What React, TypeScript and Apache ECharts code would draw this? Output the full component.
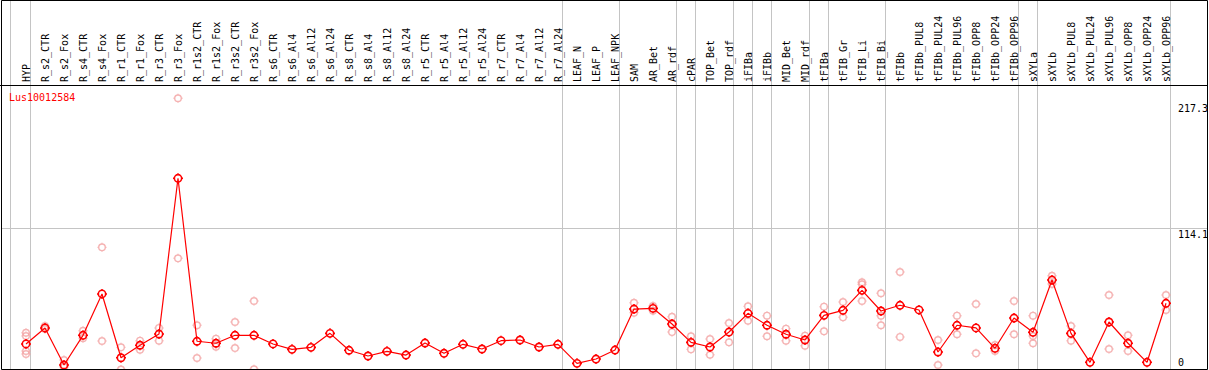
import React, { useEffect, useRef } from "react";
import * as echarts from "echarts";

const geneName = "Lus10012584";

const categories = [
  "HYP", "R_s2_CTR", "R_s2_Fox", "R_s4_CTR", "R_s4_Fox", "R_r1_CTR", "R_r1_Fox", "R_r3_CTR", "R_r3_Fox",
  "R_r1s2_CTR", "R_r1s2_Fox", "R_r3s2_CTR", "R_r3s2_Fox", "R_s6_CTR", "R_s6_Al4", "R_s6_Al12", "R_s6_Al24",
  "R_s8_CTR", "R_s8_Al4", "R_s8_Al12", "R_s8_Al24", "R_r5_CTR", "R_r5_Al4", "R_r5_Al12", "R_r5_Al24",
  "R_r7_CTR", "R_r7_Al4", "R_r7_Al12", "R_r7_Al24", "LEAF_N", "LEAF_P", "LEAF_NPK", "SAM", "AR_Bet", "AR_rdf",
  "cPAR", "TOP_Bet", "TOP_rdf", "iFIBa", "iFIBb", "MID_Bet", "MID_rdf", "tFIBa", "tFIB_Gr", "tFIB_Li", "tFIB_Bi",
  "tFIBb", "tFIBb_PUL8", "tFIBb_PUL24", "tFIBb_PUL96", "tFIBb_OPP8", "tFIBb_OPP24", "tFIBb_OPP96", "sXYLa",
  "sXYLb", "sXYLb_PUL8", "sXYLb_PUL24", "sXYLb_PUL96", "sXYLb_OPP8", "sXYLb_OPP24", "sXYLb_OPP96",
];

const meanValues = [
  15.7, 29.4, -2.3, 23.1, 58.5, 3.9, 14.6, 24.2, 157.5,
  18.0, 16.3, 23.1, 23.1, 15.7, 11.1, 12.8, 24.8,
  10.3, 5.4, 9.4, 6.2, 16.5, 7.7, 15.4, 11.4,
  18.5, 19.1, 13.1, 15.4, -0.9, 2.8, 10.5, 45.6, 46.2, 32.8,
  17.1, 13.1, 25.9, 41.9, 31.7, 24.0, 19.1, 40.2, 44.5, 61.6, 43.9,
  48.8, 44.8, 8.8, 31.7, 29.4, 12.0, 37.9, 25.7,
  70.4, 24.8, 0, 34.5, 16.3, 0, 50.5,
];

const replicateValues: number[][] = [
  [25.3, 22.5, 9.7, 7.1], [31.1, 28.5], [2.0, -4.0], [27.0, 20.5], [98.4, 18.2], [12.8, -6.2], [18.5, 10.8], [29.4, 18.5], [226.0, 89.0],
  [31.7, 3.7], [20.2, 13.4], [34.5, 12.2], [52.5, -6.0], [], [], [], [],
  [], [], [], [], [], [], [], [],
  [], [], [], [], [], [], [], [51.0, 42.5], [48.2, 44.2], [39.0, 25.9],
  [22.3, 11.1], [19.9, 6.5], [33.6, 17.1], [47.9, 35.6], [39.9, 22.3], [28.8, 18.5], [22.8, 14.2], [47.6, 26.5], [51.6, 38.5], [68.5, 66.8, 52.5], [59.1, 39.9, 31.7],
  [77.3, 21.7], [], [19.1, -2.3], [39.9, 24.0], [49.9, 7.7], [14.8, 9.7], [52.5, 24.0], [39.9, 22.5, 16.3],
  [74.1, 67.0], [31.1, 18.5], [], [57.6, 11.4], [23.1, 9.7], [], [57.6, 44.8],
];

const yTickValues = [0, 114.1, 217.3];
const gridLineValue = 114.1;
const separatorAfter = [0, 28, 31, 34, 35, 37, 38, 39, 41, 42, 45, 52, 53, 60];

const markerPath =
  "path://M0,-3.5 C1.933,-3.5 3.5,-1.933 3.5,0 C3.5,1.933 1.933,3.5 0,3.5 C-1.933,3.5 -3.5,1.933 -3.5,0 C-3.5,-1.933 -1.933,-3.5 0,-3.5 Z M0,-4.8 L0,-3.5 M0,3.5 L0,4.8 M-4.8,0 L-3.5,0 M3.5,0 L4.8,0";

const MONO = "DejaVu Sans Mono";

export default function App() {
  const ref = useRef<HTMLDivElement>(null);
  useEffect(() => {
    if (!ref.current) return;
    const chart = echarts.init(ref.current, undefined, { renderer: "svg" });
    const repData: [string, number][] = [];
    replicateValues.forEach((vals, i) => vals.forEach((v) => repData.push([categories[i], v])));
    chart.setOption({
      animation: false,
      grid: { left: 16.5, right: 33.5, top: 85, bottom: 1, containLabel: false },
      xAxis: {
        type: "category",
        position: "top",
        data: categories,
        boundaryGap: true,
        axisLine: { show: false },
        axisTick: { show: false },
        splitLine: { show: false },
        axisLabel: {
          interval: 0,
          rotate: 90,
          margin: 3,
          color: "#000",
          fontSize: 10,
          fontFamily: MONO,
        },
      },
      yAxis: {
        type: "value",
        min: -5.73,
        max: 237.35,
        show: false,
        splitLine: { show: false },
      },
      series: [
        {
          type: "scatter",
          data: repData,
          clip: false,
          symbol: markerPath,
          symbolSize: 9,
          itemStyle: { color: "rgba(0,0,0,0)", borderColor: "#f2a0a0", borderWidth: 1.4 },
          z: 2,
        },
        {
          type: "line",
          data: meanValues,
          symbol: markerPath,
          symbolSize: 10,
          showSymbol: true,
          showAllSymbol: true,
          clip: false,
          lineStyle: { color: "#ff0000", width: 1.2 },
          itemStyle: { color: "rgba(0,0,0,0)", borderColor: "#ff0000", borderWidth: 1.6 },
          z: 3,
        },
      ],
    });

    const cx = (i: number) => chart.convertToPixel({ xAxisIndex: 0 }, categories[i]) as number;
    const vy = (v: number) => chart.convertToPixel({ yAxisIndex: 0 }, v) as number;
    const band = cx(1) - cx(0);
    const W = 1209;
    const left = 1.5;
    const right = 1207.5;
    const top = 0.5;
    const bottom = 369.5;
    const gray = "#c4c4c4";
    const elements: any[] = [];
    const sepXs = [cx(0) - 0.8 * band, ...separatorAfter.map((i) => cx(i) + 0.25 * band)];
    sepXs.forEach((x) => {
      const px = Math.floor(x) + 0.5;
      elements.push({
        type: "line",
        shape: { x1: px, y1: top, x2: px, y2: bottom },
        style: { stroke: gray, lineWidth: 1 },
        z: 0,
        silent: true,
      });
    });
    const gy = Math.floor(vy(gridLineValue)) + 0.5;
    elements.push({
      type: "line",
      shape: { x1: left, y1: gy, x2: right, y2: gy },
      style: { stroke: gray, lineWidth: 1 },
      z: 0,
      silent: true,
    });
    elements.push({
      type: "line",
      shape: { x1: 0, y1: 85.5, x2: right, y2: 85.5 },
      style: { stroke: "#000", lineWidth: 1 },
      z: 10,
      silent: true,
    });
    elements.push({
      type: "rect",
      shape: { x: left, y: top, width: right - left, height: bottom - top },
      style: { stroke: "#000", fill: "none", lineWidth: 1 },
      z: 10,
      silent: true,
    });
    yTickValues.forEach((v) => {
      const isGrid = v === gridLineValue;
      elements.push({
        type: "text",
        x: 1178,
        y: isGrid ? vy(v) + 1 : vy(v),
        style: {
          text: String(v),
          fill: "#000",
          fontSize: 10,
          fontFamily: MONO,
          align: "left",
          verticalAlign: isGrid ? "top" : "middle",
        },
        z: 11,
        silent: true,
      });
    });
    elements.push({
      type: "text",
      x: 9,
      y: 97.5,
      style: {
        text: geneName,
        fill: "#ff0000",
        fontSize: 10,
        fontFamily: MONO,
        align: "left",
        verticalAlign: "middle",
      },
      z: 11,
      silent: true,
    });
    chart.setOption({ graphic: { elements } });
    void W;
    return () => chart.dispose();
  }, []);
  return (
    <div
      ref={ref}
      style={{ position: "fixed", left: 0, top: 0, width: 1209, height: 370, background: "#fff" }}
    />
  );
}
